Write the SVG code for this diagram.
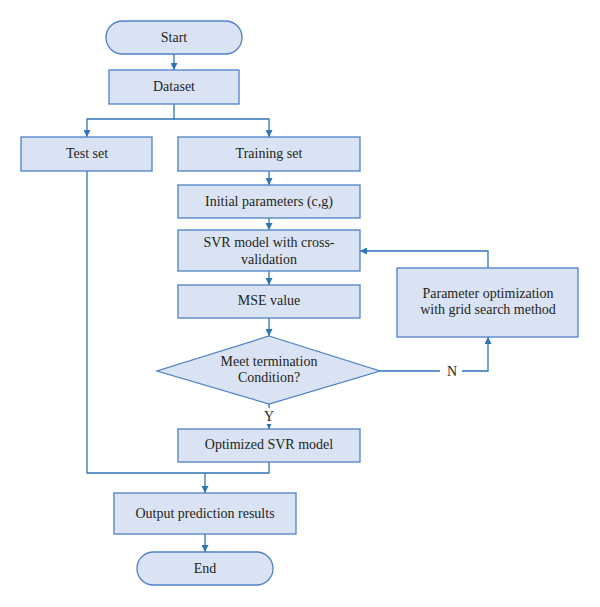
<svg xmlns="http://www.w3.org/2000/svg" width="600" height="607" viewBox="0 0 600 607">
<style>
.box{fill:#dae3f3;stroke:#4f81c7;stroke-width:1.3}
.t{font-family:"Liberation Serif","Times New Roman",serif;font-size:14px;fill:#231f20;text-anchor:middle}
.c{fill:none;stroke:#2e75b6;stroke-width:1.3}
</style>
<defs>
<marker id="a" viewBox="0 0 10 10" refX="10" refY="5" markerWidth="7" markerHeight="7" markerUnits="userSpaceOnUse" orient="auto">
<path d="M0,0L10,5L0,10z" fill="#2e75b6"/>
</marker>
</defs>
<rect width="600" height="607" fill="#fff"/>
<g id="connectors">
<path class="c" d="M174,54V70" marker-end="url(#a)"/>
<path class="c" d="M174,104V119H87V137" marker-end="url(#a)"/>
<path class="c" d="M174,119H269V137" marker-end="url(#a)"/>
<path class="c" d="M269,171V185" marker-end="url(#a)"/>
<path class="c" d="M269,218V230" marker-end="url(#a)"/>
<path class="c" d="M269,271V285" marker-end="url(#a)"/>
<path class="c" d="M269,318V336" marker-end="url(#a)"/>
<path class="c" d="M380,371H488V337" marker-end="url(#a)"/>
<path class="c" d="M488,268V251H360" marker-end="url(#a)"/>
<path class="c" d="M269,404V429" marker-end="url(#a)"/>
<path class="c" d="M87,171V473H269V462"/>
<path class="c" d="M205,473V493" marker-end="url(#a)"/>
<path class="c" d="M205,534V552" marker-end="url(#a)"/>
<rect x="440" y="363" width="22" height="16" fill="#fff"/>
<text class="t" x="452" y="376">N</text>
<rect x="260" y="408" width="18" height="16" fill="#fff"/>
<text class="t" x="269" y="421">Y</text>
</g>
<g id="start"><rect class="box" x="106" y="21" width="136" height="33" rx="16.5"/><text class="t" x="174" y="42">Start</text></g>
<g id="dataset"><rect class="box" x="109" y="70" width="130" height="34"/><text class="t" x="174" y="91">Dataset</text></g>
<g id="testset"><rect class="box" x="21" y="137" width="131" height="34"/><text class="t" x="87" y="158">Test set</text></g>
<g id="trainingset"><rect class="box" x="178" y="137" width="182" height="34"/><text class="t" x="269" y="158">Training set</text></g>
<g id="initial"><rect class="box" x="178" y="185" width="182" height="33"/><text class="t" x="269" y="206">Initial parameters (c,g)</text></g>
<g id="svr"><rect class="box" x="178" y="230" width="182" height="41"/><text class="t" x="269" y="247">SVR model with cross-</text><text class="t" x="269" y="264">validation</text></g>
<g id="mse"><rect class="box" x="178" y="285" width="182" height="33"/><text class="t" x="269" y="305">MSE value</text></g>
<g id="decision"><path class="box" d="M269,336L380,371L269,404L157,371Z"/><text class="t" x="269" y="366">Meet termination</text><text class="t" x="269" y="382">Condition?</text></g>
<g id="paramopt"><rect class="box" x="397" y="268" width="181" height="69"/><text class="t" x="488" y="298">Parameter optimization</text><text class="t" x="488" y="314">with grid search method</text></g>
<g id="optimized"><rect class="box" x="178" y="429" width="182" height="33"/><text class="t" x="269" y="449">Optimized SVR model</text></g>
<g id="output"><rect class="box" x="114" y="493" width="182" height="41"/><text class="t" x="205" y="518">Output prediction results</text></g>
<g id="end"><rect class="box" x="137" y="552" width="136" height="33" rx="16.5"/><text class="t" x="205" y="573">End</text></g>
</svg>
